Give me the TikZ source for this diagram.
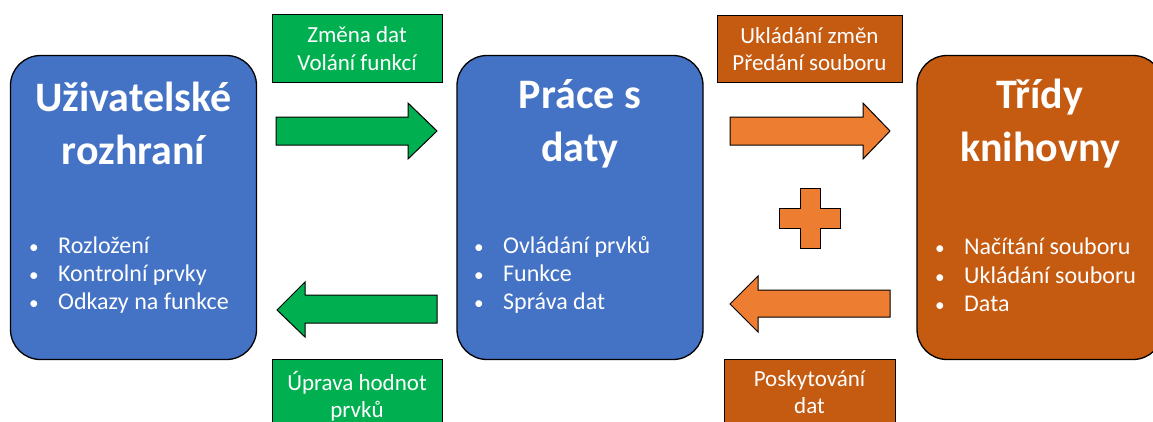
\documentclass[tikz,border=0pt]{standalone}
\usepackage{fontspec}
\setmainfont{Carlito}
\definecolor{blueF}{HTML}{4472C4}
\definecolor{greenF}{HTML}{00B050}
\definecolor{rustF}{HTML}{C55A11}
\definecolor{orangeF}{HTML}{ED7D31}
\newcommand\blt[1]{\makebox[29pt][l]{\scalebox{0.8}{•}}#1}
\tikzset{
  bigbox/.style={draw=black, line width=1.3pt, rounded corners=30pt, minimum width=246pt, minimum height=304pt, inner sep=0pt},
  titletext/.style={text=white, font=\fontsize{42}{53}\selectfont\bfseries, align=center, inner sep=0pt},
  bullettext/.style={text=white, font=\fontsize{24}{28.3}\selectfont, align=left, inner sep=0pt, anchor=west},
  labelbox/.style={draw=black, line width=1pt},
  labeltext/.style={text=white, font=\fontsize{23}{27.5}\selectfont, align=center, inner sep=0pt},
  blockarrow/.style={draw=black, line width=1pt},
}
\begin{document}
\begin{tikzpicture}[x=1pt,y=-1pt]
\useasboundingbox (0,0) rectangle (1153,421);
% main boxes
\node[bigbox, fill=blueF] (ui) at (133.5,207.5) {};
\node[bigbox, fill=blueF] (data) at (580,207.5) {};
\node[bigbox, fill=rustF] (lib) at (1040,207.5) {};
\node[titletext] (uit) at (133.5,123) {Uživatelské\\rozhraní};
\node[titletext] (datat) at (580,124) {Práce s\\daty};
\node[titletext] (libt) at (1040,124) {Třídy\\knihovny};
\node[bullettext] (uib) at (29,275) {\blt{Rozložení}\\\blt{Kontrolní prvky}\\\blt{Odkazy na funkce}};
\node[bullettext] (datab) at (474,275) {\blt{Ovládání prvků}\\\blt{Funkce}\\\blt{Správa dat}};
\node[bullettext] (libb) at (935,275) {\blt{Načítání souboru}\\\blt{Ukládání souboru}\\\blt{Data}};
% label boxes
\draw[labelbox, fill=greenF] (272,14) rectangle (442,82);
\node[labeltext] (gtop) at (357,48.5) {Změna dat\\Volání funkcí};
\draw[labelbox, fill=greenF] (272,359) rectangle (442,440);
\node[labeltext] (gbot) at (357,396) {Úprava hodnot\\prvků};
\draw[labelbox, fill=rustF] (717,15) rectangle (902,82);
\node[labeltext] (otop) at (809.5,49) {Ukládání změn\\Předání souboru};
\draw[labelbox, fill=rustF] (724,359) rectangle (895,440);
\node[labeltext] (obot) at (809.5,392) {Poskytování\\dat};
% block arrows
\draw[blockarrow, fill=greenF] (276,117) -- (408,117) -- (408,103) -- (437,131) -- (408,159) -- (408,145) -- (276,145) -- cycle;
\draw[blockarrow, fill=greenF] (437,295) -- (305,295) -- (305,282) -- (277,310) -- (305,337) -- (305,323) -- (437,323) -- cycle;
\draw[blockarrow, fill=orangeF] (730,117) -- (863,117) -- (863,103) -- (890,131) -- (863,159) -- (863,145) -- (730,145) -- cycle;
\draw[blockarrow, fill=orangeF] (890,290) -- (758,290) -- (758,276) -- (730,304) -- (758,332) -- (758,317) -- (890,317) -- cycle;
% plus sign
\draw[blockarrow, fill=orangeF] (800,188) -- (820,188) -- (820,208) -- (840,208) -- (840,228) -- (820,228) -- (820,248) -- (800,248) -- (800,228) -- (779,228) -- (779,208) -- (800,208) -- cycle;
\end{tikzpicture}
\end{document}
